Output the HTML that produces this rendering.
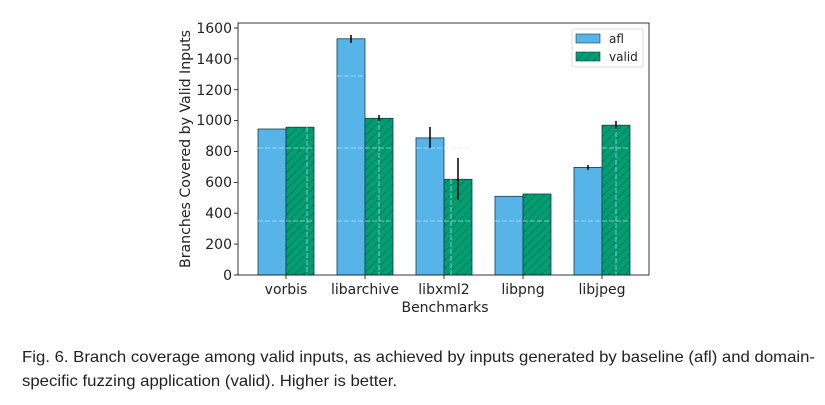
<!DOCTYPE html>
<html><head><meta charset="utf-8"><style>
body{margin:0;background:#fff;width:825px;height:400px;overflow:hidden}
</style></head><body>
<svg width="825" height="400" xmlns="http://www.w3.org/2000/svg" font-family="DejaVu Sans, sans-serif">
<defs>
<pattern id="h" width="6" height="6" patternUnits="userSpaceOnUse" patternTransform="rotate(45)">
<rect width="6" height="6" fill="#009e73"/>
<line x1="0" y1="0" x2="0" y2="6" stroke="#0a6e50" stroke-width="1.5"/>
</pattern>
</defs>
<g stroke="#1a3a4a" stroke-width="0.8">
<rect x="258" y="129" width="28" height="146" fill="#56b4e9"/>
<rect x="286" y="127.2" width="28" height="147.8" fill="url(#h)"/>
<rect x="337" y="38.8" width="28" height="236.2" fill="#56b4e9"/>
<rect x="365" y="118.3" width="28" height="156.7" fill="url(#h)"/>
<rect x="416" y="137.9" width="28" height="137.1" fill="#56b4e9"/>
<rect x="444" y="179.3" width="28" height="95.7" fill="url(#h)"/>
<rect x="495" y="196.3" width="28" height="78.7" fill="#56b4e9"/>
<rect x="523" y="194" width="28" height="81" fill="url(#h)"/>
<rect x="574" y="167.4" width="28" height="107.6" fill="#56b4e9"/>
<rect x="602" y="125.2" width="28" height="149.8" fill="url(#h)"/>
</g>
<g stroke="#c8f0ff" stroke-width="0.8" stroke-dasharray="5,2" opacity="0.8">
<line x1="258" y1="148" x2="314" y2="148"/><line x1="258" y1="221" x2="314" y2="221"/>
<line x1="337" y1="148" x2="393" y2="148"/><line x1="337" y1="221" x2="393" y2="221"/>
<line x1="416" y1="148" x2="472" y2="148"/><line x1="416" y1="221" x2="472" y2="221"/>
<line x1="495" y1="221" x2="551" y2="221"/>
<line x1="574" y1="221" x2="630" y2="221"/><line x1="602" y1="148" x2="630" y2="148"/>
<line x1="337" y1="76" x2="365" y2="76"/>
<line x1="307" y1="127" x2="307" y2="275"/>
<line x1="379" y1="118" x2="379" y2="275"/>
<line x1="451" y1="179" x2="451" y2="275"/>
<line x1="616" y1="125" x2="616" y2="275"/>
</g>
<g stroke="#000" stroke-width="1.5">
<line x1="351" y1="35" x2="351" y2="43"/>
<line x1="379" y1="115" x2="379" y2="121"/>
<line x1="430" y1="127" x2="430" y2="148"/>
<line x1="458" y1="158" x2="458" y2="200"/>
<line x1="588" y1="165" x2="588" y2="170"/>
<line x1="616" y1="121" x2="616" y2="129"/>
</g>
<rect x="238" y="23" width="411" height="252" fill="none" stroke="#222" stroke-width="0.9"/>
<g stroke="#222" stroke-width="0.9">
<line x1="234" y1="275" x2="238" y2="275"/><line x1="234" y1="244.1" x2="238" y2="244.1"/>
<line x1="234" y1="213.2" x2="238" y2="213.2"/><line x1="234" y1="182.4" x2="238" y2="182.4"/>
<line x1="234" y1="151.5" x2="238" y2="151.5"/><line x1="234" y1="120.6" x2="238" y2="120.6"/>
<line x1="234" y1="89.7" x2="238" y2="89.7"/><line x1="234" y1="58.8" x2="238" y2="58.8"/>
<line x1="234" y1="28" x2="238" y2="28"/>
<line x1="286" y1="275" x2="286" y2="279"/><line x1="365" y1="275" x2="365" y2="279"/>
<line x1="444" y1="275" x2="444" y2="279"/><line x1="523" y1="275" x2="523" y2="279"/>
<line x1="602" y1="275" x2="602" y2="279"/>
</g>
<g font-size="14" fill="#222" text-anchor="end">
<text x="232" y="280">0</text><text x="232" y="249">200</text><text x="232" y="218">400</text>
<text x="232" y="187">600</text><text x="232" y="156">800</text><text x="232" y="125">1000</text>
<text x="232" y="95">1200</text><text x="232" y="64">1400</text><text x="232" y="33">1600</text>
</g>
<g font-size="14" fill="#222" text-anchor="middle">
<text x="286" y="294">vorbis</text><text x="365" y="294">libarchive</text>
<text x="444" y="294">libxml2</text><text x="523" y="294">libpng</text><text x="602" y="294">libjpeg</text>
<text x="445" y="312">Benchmarks</text>
<text transform="translate(190,149) rotate(-90)" textLength="238" lengthAdjust="spacingAndGlyphs">Branches Covered by Valid Inputs</text>
</g>
<rect x="572" y="29" width="71" height="38" fill="#fff" stroke="#ddd" rx="2"/>
<rect x="576" y="34" width="24" height="9" fill="#56b4e9" stroke="#1a3a4a" stroke-width="0.6"/>
<rect x="576" y="52" width="24" height="9" fill="url(#h)" stroke="#1a3a4a" stroke-width="0.6"/>
<text x="609" y="43" font-size="12" fill="#222">afl</text>
<text x="609" y="61" font-size="12" fill="#222">valid</text>
<g font-family="Liberation Sans, sans-serif" font-size="16" fill="#222">
<text x="22" y="362" textLength="793" lengthAdjust="spacingAndGlyphs">Fig. 6.  Branch coverage among valid inputs, as achieved by inputs generated by baseline (afl) and domain-</text>
<text x="22" y="386" textLength="375" lengthAdjust="spacingAndGlyphs">specific fuzzing application (valid). Higher is better.</text>
</g>
</svg>
</body></html>
